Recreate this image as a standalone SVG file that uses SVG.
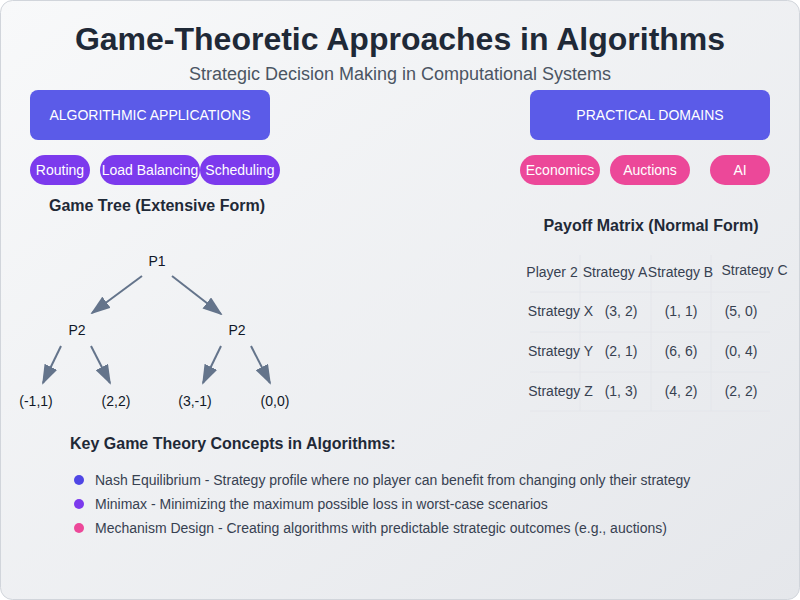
<svg xmlns="http://www.w3.org/2000/svg" width="800" height="600" viewBox="0 0 800 600">
<defs>
<linearGradient id="bg" x1="0" y1="0" x2="1" y2="1">
<stop offset="0" stop-color="#f8f9fa"/>
<stop offset="1" stop-color="#e5e7eb"/>
</linearGradient>
<marker id="arrow" markerWidth="10" markerHeight="7" refX="9" refY="3.5" orient="auto" markerUnits="strokeWidth">
<polygon points="0 0, 10 3.5, 0 7" fill="#64748b"/>
</marker>
<style>
text{font-family:"Liberation Sans",Arial,sans-serif;}
.title{font-size:32px;font-weight:bold;fill:#1f2937;text-anchor:middle;}
.sub{font-size:18px;fill:#4b5563;text-anchor:middle;}
.hbox{fill:#5b5be8;}
.htxt{font-size:14px;fill:#ffffff;text-anchor:middle;}
.pp{fill:#7c3aed;}
.pk{fill:#ec4899;}
.ptxt{font-size:14px;fill:#ffffff;text-anchor:middle;}
.sec{font-size:16px;font-weight:bold;fill:#1f2937;text-anchor:middle;}
.node{font-size:14px;fill:#111827;text-anchor:middle;}
.edge{stroke:#64748b;stroke-width:2;fill:none;marker-end:url(#arrow);}
.cell{font-size:14px;fill:#374151;text-anchor:middle;}
.grid{stroke:#e2e4e9;stroke-width:1;fill:none;opacity:0.7;}
.kh{font-size:16px;font-weight:bold;fill:#1f2937;}
.kt{font-size:14px;fill:#374151;}
</style>
</defs>
<rect x="0.5" y="0.5" width="799" height="599" rx="12" fill="url(#bg)" stroke="#d1d5db"/>
<text class="title" x="400" y="50">Game-Theoretic Approaches in Algorithms</text>
<text class="sub" x="400" y="80">Strategic Decision Making in Computational Systems</text>

<g id="algo-apps"><rect class="hbox" x="30" y="90" width="240" height="50" rx="8"/><text class="htxt" x="150" y="120">ALGORITHMIC APPLICATIONS</text></g>
<g id="practical-domains"><rect class="hbox" x="530" y="90" width="240" height="50" rx="8"/><text class="htxt" x="650" y="120">PRACTICAL DOMAINS</text></g>

<g id="routing"><rect class="pp" x="30" y="155" width="60" height="30" rx="15"/><text class="ptxt" x="60" y="175">Routing</text></g>
<g id="load-balancing"><rect class="pp" x="100" y="155" width="100" height="30" rx="15"/><text class="ptxt" x="150" y="175">Load Balancing</text></g>
<g id="scheduling"><rect class="pp" x="200" y="155" width="80" height="30" rx="15"/><text class="ptxt" x="240" y="175">Scheduling</text></g>
<g id="economics"><rect class="pk" x="520" y="155" width="80" height="30" rx="15"/><text class="ptxt" x="560" y="175">Economics</text></g>
<g id="auctions"><rect class="pk" x="610" y="155" width="80" height="30" rx="15"/><text class="ptxt" x="650" y="175">Auctions</text></g>
<g id="ai"><rect class="pk" x="710" y="155" width="60" height="30" rx="15"/><text class="ptxt" x="740" y="175">AI</text></g>

<text class="sec" x="157" y="211">Game Tree (Extensive Form)</text>
<g id="p1"><text class="node" x="157" y="266">P1</text></g>
<g id="p2-left"><text class="node" x="77" y="335">P2</text></g>
<g id="p2-right"><text class="node" x="237" y="335">P2</text></g>
<g id="leaf1"><text class="node" x="36" y="406">(-1,1)</text></g>
<g id="leaf2"><text class="node" x="116" y="406">(2,2)</text></g>
<g id="leaf3"><text class="node" x="195" y="406">(3,-1)</text></g>
<g id="leaf4"><text class="node" x="275" y="406">(0,0)</text></g>
<g id="connectors">
<line class="edge" x1="142" y1="276" x2="92" y2="313"/>
<line class="edge" x1="172" y1="276" x2="221" y2="314"/>
<line class="edge" x1="61" y1="346" x2="43" y2="383"/>
<line class="edge" x1="91" y1="346" x2="110" y2="383"/>
<line class="edge" x1="221" y1="346" x2="203" y2="383"/>
<line class="edge" x1="251" y1="346" x2="270" y2="383"/>
</g>

<text class="sec" x="651" y="231">Payoff Matrix (Normal Form)</text>
<g id="payoff-matrix">
<line class="grid" x1="530" y1="292" x2="770" y2="292"/>
<line class="grid" x1="530" y1="332" x2="770" y2="332"/>
<line class="grid" x1="530" y1="372" x2="770" y2="372"/>
<line class="grid" x1="530" y1="411" x2="770" y2="411"/>
<line class="grid" x1="580" y1="255" x2="580" y2="411"/>
<line class="grid" x1="651" y1="255" x2="651" y2="411"/>
<line class="grid" x1="711" y1="255" x2="711" y2="411"/>
<text class="cell" x="552" y="277">Player 2</text>
<text class="cell" x="615" y="277">Strategy A</text>
<text class="cell" x="680.5" y="277">Strategy B</text>
<text class="cell" x="754.5" y="275">Strategy C</text>
<text class="cell" x="560.5" y="316">Strategy X</text>
<text class="cell" x="621" y="316">(3, 2)</text>
<text class="cell" x="681" y="316">(1, 1)</text>
<text class="cell" x="741" y="316">(5, 0)</text>
<text class="cell" x="560.5" y="356">Strategy Y</text>
<text class="cell" x="621" y="356">(2, 1)</text>
<text class="cell" x="681" y="356">(6, 6)</text>
<text class="cell" x="741" y="356">(0, 4)</text>
<text class="cell" x="560.5" y="396">Strategy Z</text>
<text class="cell" x="621" y="396">(1, 3)</text>
<text class="cell" x="681" y="396">(4, 2)</text>
<text class="cell" x="741" y="396">(2, 2)</text>
</g>

<g id="key-concepts">
<text class="kh" x="70" y="449">Key Game Theory Concepts in Algorithms:</text>
<circle cx="79" cy="480" r="5" fill="#4f46e5"/>
<text class="kt" x="95" y="485">Nash Equilibrium - Strategy profile where no player can benefit from changing only their strategy</text>
<circle cx="79" cy="504" r="5" fill="#7c3aed"/>
<text class="kt" x="95" y="509">Minimax - Minimizing the maximum possible loss in worst-case scenarios</text>
<circle cx="79" cy="528" r="5" fill="#ec4899"/>
<text class="kt" x="95" y="533">Mechanism Design - Creating algorithms with predictable strategic outcomes (e.g., auctions)</text>
</g>
</svg>
